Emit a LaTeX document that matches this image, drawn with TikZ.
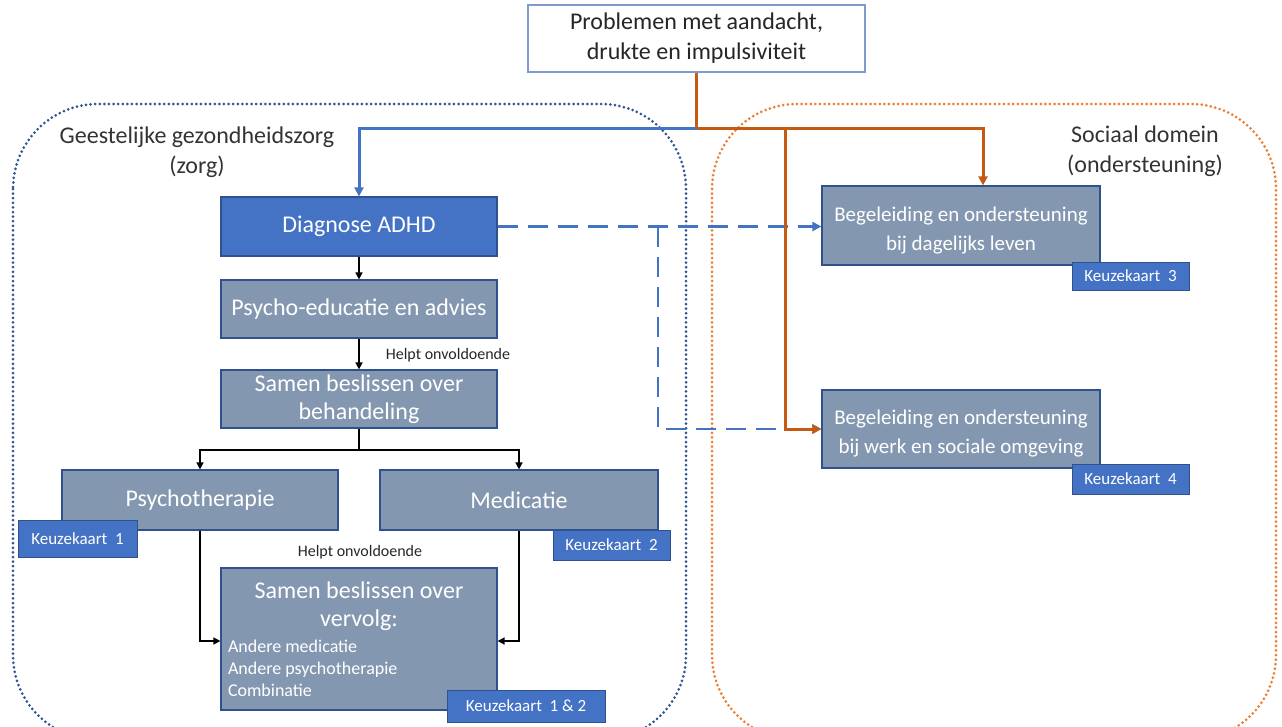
\documentclass[tikz,border=0pt]{standalone}
\usepackage{fontspec}
\setmainfont{Carlito}
\usetikzlibrary{arrows.meta,positioning,calc}
\definecolor{adhdblue}{HTML}{4472C4}
\definecolor{stepgray}{HTML}{8497B0}
\definecolor{rimblue}{HTML}{2F528F}
\definecolor{topline}{HTML}{7F9BCB}
\definecolor{ggzdots}{HTML}{2F5597}
\definecolor{socorange}{HTML}{C55A11}
\definecolor{socdots}{HTML}{ED7D31}
\tikzset{box/.style={draw=rimblue,line width=1.2pt,align=center,text=white,font=\fontsize{24}{28}\selectfont,minimum width=276pt,minimum height=58pt,inner sep=0pt},treat/.style={box,fill=stepgray},diagbox/.style={box,fill=adhdblue},card/.style={draw=rimblue,line width=1pt,fill=adhdblue,text=white,font=\fontsize{17}{20}\selectfont,minimum width=117pt,minimum height=30pt,inner sep=0pt},area/.style={line width=3pt,dash pattern=on 0pt off 4.6pt,line cap=round,rounded corners=85pt},arealabel/.style={align=center,font=\fontsize{24}{30}\selectfont,text=black!80},note/.style={font=\fontsize{16}{18}\selectfont,text=black!85},edge/.style={-{Triangle[length=7pt,width=7pt]},line width=1.5pt,black},blueedge/.style={-{Triangle[length=9pt,width=9pt]},line width=3pt,adhdblue},orangeedge/.style={-{Triangle[length=9pt,width=9pt]},line width=3pt,socorange},dashedge/.style={-{Triangle[length=9pt,width=9pt]},line width=2.5pt,adhdblue,dash pattern=on 20pt off 10pt}}
\begin{document}
\begin{tikzpicture}[x=1pt,y=-1pt]
\useasboundingbox (0,0) rectangle (1282,726);
% the two domains
\draw[area,ggzdots] (13,104) rectangle (686,740);
\draw[area,socdots] (712,104) rectangle (1276,740);
\node[arealabel] (ggzlabel) at (197,152) {Geestelijke gezondheidszorg\\(zorg)};
\node[arealabel] (soclabel) at (1145,151) {Sociaal domein\\(ondersteuning)};
% boxes
\node[draw=topline,line width=1.2pt,fill=white,align=center,font=\fontsize{24}{30}\selectfont,text=black!85,minimum width=337pt,minimum height=67pt,inner sep=0pt] (prob) at (696.5,38.5) {Problemen met aandacht,\\drukte en impulsiviteit};
\node[diagbox,minimum height=59pt] (diag) at (359,226.5) {Diagnose ADHD};
\node[treat] (psyed) at (359,309) {Psycho-educatie en advies};
\node[treat] (samen) at (359,399) {Samen beslissen over\\behandeling};
\node[treat,minimum height=60pt] (psych) at (200,500) {Psychotherapie};
\node[treat,minimum width=278pt,minimum height=60pt] (medic) at (519,500) {Medicatie};
\node[treat,minimum height=142pt,text width=262pt,align=none] (vervolg) at (359,639)
{\centering Samen beslissen over\\vervolg:\par\vspace{4pt}\raggedright\fontsize{18}{22}\selectfont Andere medicatie\par Andere psychotherapie\par Combinatie\par};
\node[treat,font=\fontsize{21}{29}\selectfont,minimum width=278pt,minimum height=79pt] (beg1) at (961,225.5) {\rule{0pt}{24pt}Begeleiding en ondersteuning\\bij dagelijks leven};
\node[treat,font=\fontsize{21}{29}\selectfont,minimum width=278pt,minimum height=78pt] (beg2) at (961,429) {\rule{0pt}{24pt}Begeleiding en ondersteuning\\bij werk en sociale omgeving};
% keuzekaarten
\node[card,minimum width=119pt,minimum height=37pt] (kk1) at (77.5,538.5) {Keuzekaart\ \ 1};
\node[card] (kk2) at (611.5,545) {Keuzekaart\ \ 2};
\node[card,minimum height=28pt] (kk3) at (1130.5,276) {Keuzekaart\ \ 3};
\node[card] (kk4) at (1130.5,479) {Keuzekaart\ \ 4};
\node[card,minimum width=158pt,minimum height=32pt] (kk12) at (526,706) {Keuzekaart\ \ 1 \& 2};
\node[note] (helpt1) at (448,355) {Helpt onvoldoende};
\node[note] (helpt2) at (360,552) {Helpt onvoldoende};
% connectors
\coordinate (split) at (696.5,128);
\coordinate (obranch) at (785,128);
\coordinate (dsplit) at (658,227);
\coordinate (fork) at (359,450);
\draw[dashedge] (diag.east) -- (diag.east -| beg1.west);
\draw[dashedge] (dsplit) |- (beg2);
\draw[line width=3pt,socorange] (prob) -- (split);
\draw[blueedge] (split) -| (diag);
\draw[orangeedge] (split) -| ([xshift=22pt]beg1.north);
\draw[orangeedge] (obranch) |- (beg2);
\draw[edge] (diag) -- (psyed);
\draw[edge] (psyed) -- (samen);
\draw[line width=1.5pt] (samen) -- (fork);
\draw[edge] (fork) -| (psych);
\draw[edge] (fork) -| (medic);
\draw[edge] (psych) |- ([yshift=-2pt]vervolg.west);
\draw[edge] (medic) |- ([yshift=-2pt]vervolg.east);
\end{tikzpicture}
\end{document}
